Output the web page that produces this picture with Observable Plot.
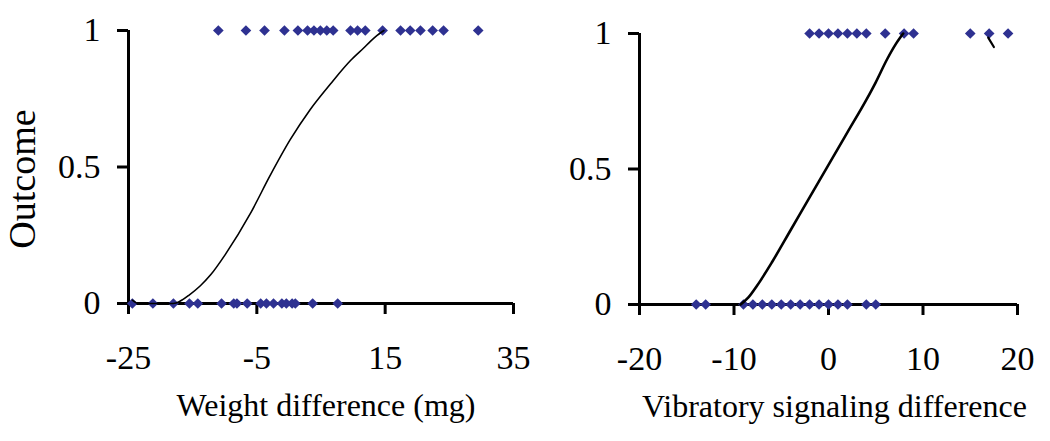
<!DOCTYPE html>
<html><head><meta charset="utf-8">
<script src="https://cdn.jsdelivr.net/npm/d3@7"></script>
<script src="https://cdn.jsdelivr.net/npm/@observablehq/plot@0.6"></script>
<style>
body{margin:0;background:#fff;}
#wrap{display:flex;width:1050px;height:441px;}
#wrap svg{overflow:visible;}
</style></head><body><div id="wrap"></div>
<script>
// Left panel: weight difference (mg)
const weightWon = [-11.0, -6.7, -3.8, -0.7, 1.4, 2.9, 3.9, 4.9, 5.9, 6.9, 9.6, 10.7, 11.9, 14.6, 17.4, 18.9, 20.5, 22.4, 24.1, 29.5];
const weightLost = [-24.4, -21.2, -18.0, -15.5, -14.2, -10.5, -8.6, -8.1, -6.5, -4.4, -3.5, -2.4, -1.1, -0.4, 0.5, 1.0, 3.7, 7.6];
const weightCurveX = [-24.4, -23.5, -18.5, -17.6, -16.5, -15.6, -13.8, -12.2, -9.9, -6.0, -2.9, 0.2, 3.3, 6.5, 9.6, 11.65, 12.7, 13.7, 14.8];
const weightCurveY = [0.012, 0, 0, 0.002, 0.015, 0.03, 0.065, 0.105, 0.18, 0.33, 0.47, 0.6, 0.71, 0.805, 0.89, 0.936, 0.96, 0.981, 1.0];
const weightTicks = [-25, -5, 15, 35];

// Right panel: vibratory signaling difference
const vibWon = [-2, -1, 0, 1, 2, 3, 4, 6, 8, 9, 15, 17, 19];
const vibLost = [-14, -13, -9, -8, -7, -6, -5, -4, -3, -2, -1, 0, 1, 2, 4, 5];
const vibCurveX = [-9.3, -8.5, -7.55, -6, -4, -2, 0, 2, 4, 5, 6.2, 7.1, 7.9];
const vibCurveY = [0, 0.025, 0.07, 0.155, 0.275, 0.395, 0.515, 0.635, 0.755, 0.82, 0.905, 0.96, 1.0];
const vibStrayX = [16.9, 17.5];
const vibStrayY = [0.985, 0.95];
const vibTicks = [-20, -10, 0, 10, 20];

const outcomeTicks = [0, 0.5, 1];
const markerColor = "#2E3191";

function panel({width, mLeft, mRight, mTop, mBottom, domain, ticks, won, lost, cx, cy, curveWidth, title, titleDx, ylabel, extra}) {
  const curve = cx.map((x, i) => ({x, y: cy[i]}));
  const marks = [
    Plot.ruleY([0], {stroke: "black", strokeWidth: 3}),
    Plot.ruleX([domain[0]], {stroke: "black", strokeWidth: 3}),
    Plot.axisX({ticks, tickSize: 11, tickPadding: 30, strokeWidth: 3, label: null, tickFormat: d => String(d)}),
    Plot.axisY({ticks: outcomeTicks, tickSize: 11, tickPadding: 17, strokeWidth: 3, label: null, tickFormat: d => String(d)}),
    Plot.dot(won, {x: d => d, y: () => 1, symbol: "diamond2", r: 4.8, fill: markerColor, stroke: "none"}),
    Plot.dot(lost, {x: d => d, y: () => 0, symbol: "diamond2", r: 4.8, fill: markerColor, stroke: "none"}),
    Plot.line(curve, {x: "x", y: "y", stroke: "black", strokeWidth: curveWidth, curve: "monotone-x"}),
    Plot.text([title], {frameAnchor: "bottom", textAnchor: "middle", dx: titleDx, dy: 112, fontSize: 32})
  ];
  if (ylabel) marks.push(Plot.text([ylabel], {frameAnchor: "left", textAnchor: "middle", dx: -106, dy: 12, rotate: -90, fontSize: 38}));
  if (extra) marks.push(extra);
  return Plot.plot({
    width, height: 441,
    marginLeft: mLeft, marginRight: mRight, marginTop: mTop, marginBottom: mBottom,
    x: {domain, ticks},
    y: {domain: [0, 1]},
    style: {fontFamily: "'Liberation Serif', 'Times New Roman', serif", fontSize: "34px", color: "black", background: "transparent", overflow: "visible"},
    marks
  });
}

const wrap = document.getElementById("wrap");
wrap.append(panel({
  width: 525, mLeft: 128, mRight: 12, mTop: 30, mBottom: 138,
  domain: [-25, 35], ticks: weightTicks, won: weightWon, lost: weightLost,
  cx: weightCurveX, cy: weightCurveY, curveWidth: 1.6,
  title: "Weight difference (mg)", titleDx: 5, ylabel: "Outcome"
}));
const stray = vibStrayX.map((x, i) => ({x, y: vibStrayY[i]}));
wrap.append(panel({
  width: 525, mLeft: 114, mRight: 33, mTop: 33, mBottom: 137,
  domain: [-20, 20], ticks: vibTicks, won: vibWon, lost: vibLost,
  cx: vibCurveX, cy: vibCurveY, curveWidth: 2.6,
  title: "Vibratory signaling difference", titleDx: 6, ylabel: null,
  extra: Plot.line(stray, {x: "x", y: "y", stroke: "black", strokeWidth: 2.2})
}));
</script>
</body></html>
